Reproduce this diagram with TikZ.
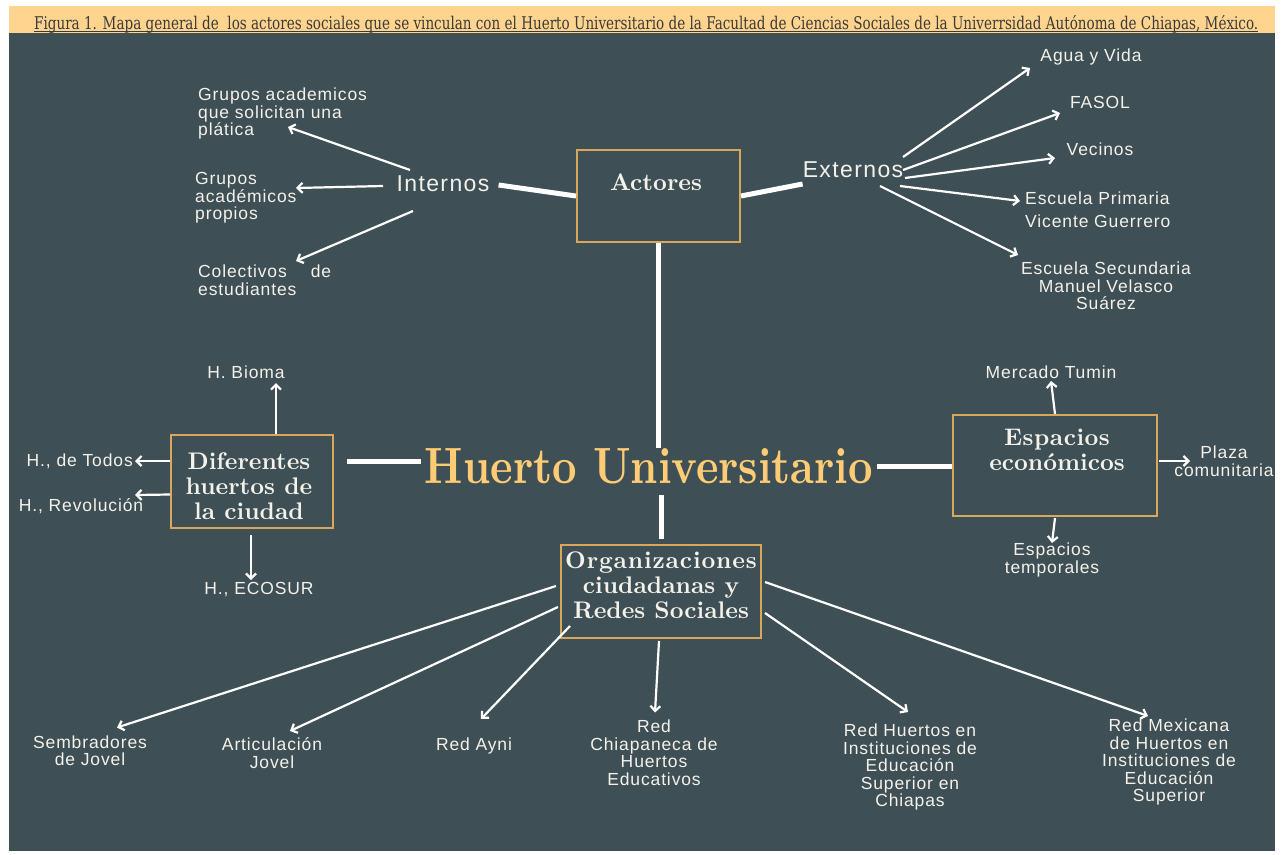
\documentclass[tikz,border=0pt]{standalone}
\usepackage{fontspec}
\usepackage{graphicx}
\usetikzlibrary{arrows.meta}
\newfontfamily\lblfont[LetterSpace=5]{Liberation Sans}
\newfontfamily\sidefont[LetterSpace=6]{Liberation Sans}
\newfontfamily\titlefont{DejaVu Serif}
\newfontfamily\hubbf[Extension=.otf]{lmroman10-bold}
\definecolor{panel}{RGB}{62,80,85}
\definecolor{gold}{RGB}{217,166,91}
\definecolor{huertogold}{RGB}{255,203,116}
\definecolor{titlebar}{RGB}{255,212,143}
\definecolor{titleink}{RGB}{58,58,58}
\definecolor{chalk}{RGB}{244,241,234}

\begin{document}
\begin{tikzpicture}[
    x=1pt, y=-1pt,
    % labels in spaced sans
    lbl/.style={text=chalk, font=\lblfont\fontsize{17.5}{17.5}\selectfont, align=center, inner sep=0pt},
    side/.style={text=chalk, font=\sidefont\fontsize{23}{24}\selectfont, inner sep=0pt},
    % gold framed boxes
    hub/.style={draw=gold, line width=2pt, inner sep=0pt},
    hubtext/.style={text=chalk, font=\hubbf\fontsize{24}{25}\selectfont, align=center, inner sep=0pt},
    link/.style={draw=white, line width=5pt},
    arrow/.style={draw=white, line width=2.2pt, -{Straight Barb[length=5pt,width=10pt]}}
]

%% ── Frame ───────────────────────────────────────────────────
\useasboundingbox (0,0) rectangle (1282,854);
\fill[white] (0,0) rectangle (1282,854);
\fill[titlebar] (9,6) rectangle (1275,33);
\fill[panel] (9,33) rectangle (1275,851);

\node (caption) [anchor=base west, inner sep=0pt, text=titleink] at (34,29)
    {\resizebox{1224pt}{14pt}{\titlefont Figura 1. Mapa general de\ \ los actores sociales que se vinculan con el Huerto Universitario de la Facultad de Ciencias Sociales de la Univerrsidad Autónoma de Chiapas, México.}};
\draw[titleink, line width=0.8pt] ([shift={(0,2)}]caption.base west) -- ([shift={(0,2)}]caption.base east);

%% ── Central hubs ────────────────────────────────────────────
\node (huerto) [text=huertogold, inner sep=0pt] at (649,466) {\resizebox{448pt}{35pt}{\hubbf Huerto Universitario}};

\node (actores) [hub, minimum width=163pt, minimum height=92pt] at (658.5,196) {};
\node (actorestxt) [hubtext] at (656,182) {Actores};

\node (dif) [hub, minimum width=162pt, minimum height=93pt] at (252,481.5) {};
\node (diftxt) [hubtext] at (249,486) {Diferentes\\huertos de\\la ciudad};

\node (eco) [hub, minimum width=204pt, minimum height=101pt] at (1055,465.5) {};
\node (ecotxt) [hubtext] at (1057,449.5) {\addfontfeatures{LetterSpace=2}Espacios\\económicos};

\node (org) [hub, minimum width=200pt, minimum height=93pt] at (661,591.5) {};
\node (orgtxt) [hubtext] at (661,585.5) {\addfontfeatures{LetterSpace=3.5}Organizaciones\\ciudadanas y\\Redes Sociales};

%% ── Actores branch ──────────────────────────────────────────
\node (internos) [side] at (443,184) {Internos};
\node (externos) [side] at (853,170) {Externos};

\node (gpl) [lbl, anchor=west, align=left] at (198,113.5) {Grupos academicos\\que solicitan una\\plática};
\node (gprop) [lbl, anchor=west, align=left] at (195,198) {Grupos\\académicos\\propios};
\node (colect) [lbl, anchor=west, align=left] at (198,280) {Colectivos\hspace{24pt}de\\estudiantes};

\node (agua) [lbl] at (1091,57) {Agua y Vida};
\node (fasol) [lbl] at (1100,102) {FASOL};
\node (vecinos) [lbl] at (1100,149) {Vecinos};
\node (primaria) [lbl, anchor=west, align=left] at (1025,209.5) {Escuela Primaria\\[5pt]Vicente Guerrero};
\node (secund) [lbl] at (1106,286) {Escuela Secundaria\\Manuel Velasco\\Suárez};

%% ── Huertos / espacios leaves ───────────────────────────────
\node (bioma) [lbl] at (246,372) {H. Bioma};
\node (todos) [lbl, anchor=east] at (133,461) {H., de Todos};
\node (revol) [lbl] at (81,506) {H., Revolución};
\node (ecosur) [lbl] at (259,590) {H., ECOSUR};

\node (tumin) [lbl] at (1051,372) {Mercado Tumin};
\node (plaza) [lbl] at (1224,461) {Plaza\\comunitaria};
\node (tempor) [lbl] at (1052,560) {Espacios\\temporales};

%% ── Organizaciones leaves ───────────────────────────────────
\node (sembr) [lbl] at (90,750.5) {Sembradores\\de Jovel};
\node (artic) [lbl] at (272,753) {Articulación\\Jovel};
\node (ayni) [lbl] at (474,746) {Red Ayni};
\node (rchiap) [lbl] at (654,752.5) {Red\\Chiapaneca de\\Huertos\\Educativos};
\node (rhies) [lbl] at (910,767) {Red Huertos en\\Instituciones de\\Educación\\Superior en\\Chiapas};
\node (rmex) [lbl] at (1169,762) {Red Mexicana\\de Huertos en\\Instituciones de\\Educación\\Superior};

%% ── Thick links ─────────────────────────────────────────────
\coordinate (hl) at ([shift={(0,-5)}]huerto.west);
\draw[link] ([shift={(9,1)}]internos.east) -- (actores.west);
\draw[link] (actores.east) -- ([shift={(0,14)}]externos.west);
\draw[link] (actores.south) -- (actores.south |- huerto.north);
\draw[link, shorten <=4pt, shorten >=13pt] (hl) -- (hl -| dif.east);
\draw[link, shorten <=4pt] (huerto.east) -- (huerto.east -| eco.west);
\draw[link, shorten <=11pt, shorten >=5pt] (org.north |- huerto.south) -- (org.north);

%% ── Arrows ──────────────────────────────────────────────────
\draw[arrow] ([shift={(-33,-14)}]internos.center) -- ([shift={(90,13.5)}]gpl.west);
\draw[arrow] ([shift={(-60,2)}]internos.center) -- ([shift={(101,-10)}]gprop.west);
\draw[arrow] ([shift={(-30,27)}]internos.center) -- ([shift={(98,-19)}]colect.west);

\draw[arrow] ([shift={(50,-13)}]externos.center) -- ([shift={(-61,11)}]agua.center);
\draw[arrow] ([shift={(50,0)}]externos.center) -- ([shift={(-40,11)}]fasol.center);
\draw[arrow] ([shift={(52,8)}]externos.center) -- ([shift={(-45,9)}]vecinos.center);
\draw[arrow] ([shift={(47,16)}]externos.center) -- ([shift={(-5,-8.5)}]primaria.west);
\draw[arrow] ([shift={(27,16)}]externos.center) -- ([shift={(-88,-31)}]secund.center);

\draw[arrow] ([shift={(24,0)}]dif.north) -- ([shift={(30,11)}]bioma.center);
\draw[arrow, shorten >=2pt] ([shift={(0,-20.5)}]dif.west) -- (todos.east);
\draw[arrow] ([shift={(0,13)}]dif.west) -- ([shift={(54,-11)}]revol.center);
\draw[arrow] ([shift={(-1,6)}]dif.south) -- ([shift={(-8,-10)}]ecosur.center);

\draw[arrow] (eco.north) -- ([shift={(0,9)}]tumin.center);
\draw[arrow] ([shift={(1,-4.5)}]eco.east) -- ([shift={(-34,0)}]plaza.center);
\draw[arrow] ([shift={(0,1)}]eco.south) -- ([shift={(0,-17)}]tempor.center);

\draw[arrow] ([shift={(-4,-5.5)}]org.west) -- ([shift={(27,-23)}]sembr.center);
\draw[arrow] ([shift={(-2,15.5)}]org.west) -- ([shift={(18,-22)}]artic.center);
\draw[arrow] ([shift={(10,-13)}]org.south west) -- ([shift={(7,-27)}]ayni.center);
\draw[arrow] ([shift={(-2,2)}]org.south) -- ([shift={(1,-40)}]rchiap.center);
\draw[arrow] ([shift={(3,21.5)}]org.east) -- ([shift={(-2,-55)}]rhies.center);
\draw[arrow] ([shift={(3,-9.5)}]org.east) -- ([shift={(-21,-46)}]rmex.center);

\end{tikzpicture}
\end{document}
